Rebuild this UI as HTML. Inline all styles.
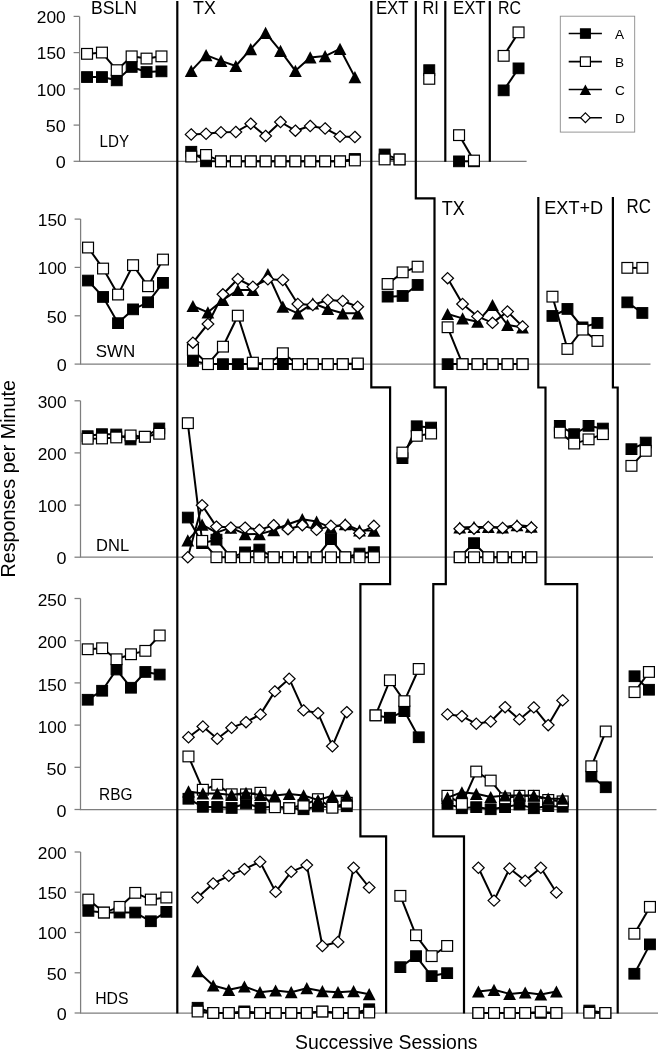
<!DOCTYPE html>
<html lang="en">
<head>
<meta charset="utf-8">
<title>Responses per Minute across Successive Sessions</title>
<style>
html,body{margin:0;padding:0;background:#fff;}
body{width:658px;height:1050px;overflow:hidden;}
svg{display:block;}
svg text{font-family:"Liberation Sans","DejaVu Sans",sans-serif;fill:#000;}
</style>
</head>
<body>
<svg width="658" height="1050" viewBox="0 0 658 1050">
<rect width="658" height="1050" fill="#fff"/>
<g>
<path d="M79.6 16.4V161.3H526.6" fill="none" stroke="#7e7e7e" stroke-width="1.25"/>
<path d="M73.6 161.3H79.6" stroke="#7e7e7e" stroke-width="1.25"/>
<text x="55.7" y="168" font-size="16.5" text-anchor="start" textLength="10" lengthAdjust="spacingAndGlyphs">0</text>
<path d="M73.6 125.1H79.6" stroke="#7e7e7e" stroke-width="1.25"/>
<text x="45.7" y="131.8" font-size="16.5" text-anchor="start" textLength="20" lengthAdjust="spacingAndGlyphs">50</text>
<path d="M73.6 88.9H79.6" stroke="#7e7e7e" stroke-width="1.25"/>
<text x="36.8" y="95.6" font-size="16.5" text-anchor="start" textLength="28.9" lengthAdjust="spacingAndGlyphs">100</text>
<path d="M73.6 52.6H79.6" stroke="#7e7e7e" stroke-width="1.25"/>
<text x="36.8" y="59.3" font-size="16.5" text-anchor="start" textLength="28.9" lengthAdjust="spacingAndGlyphs">150</text>
<path d="M73.6 16.4H79.6" stroke="#7e7e7e" stroke-width="1.25"/>
<text x="36.8" y="23.1" font-size="16.5" text-anchor="start" textLength="28.9" lengthAdjust="spacingAndGlyphs">200</text>
<text x="99.6" y="147.2" font-size="16.2" text-anchor="start" textLength="29.5" lengthAdjust="spacingAndGlyphs">LDY</text>
<polyline points="87,77 101.9,77 116.8,80.3 131.7,67 146.6,72 161.4,71.3" fill="none" stroke="#000" stroke-width="2.0" stroke-linejoin="round"/>
<rect x="81.6" y="71.7" width="10.9" height="10.7" fill="#000" stroke="#000" stroke-width="1"/>
<rect x="96.5" y="71.7" width="10.9" height="10.7" fill="#000" stroke="#000" stroke-width="1"/>
<rect x="111.3" y="75" width="10.9" height="10.7" fill="#000" stroke="#000" stroke-width="1"/>
<rect x="126.2" y="61.6" width="10.9" height="10.7" fill="#000" stroke="#000" stroke-width="1"/>
<rect x="141.1" y="66.7" width="10.9" height="10.7" fill="#000" stroke="#000" stroke-width="1"/>
<rect x="156" y="66" width="10.9" height="10.7" fill="#000" stroke="#000" stroke-width="1"/>
<polyline points="191.2,151.8 206.1,161.3 221,161.3 235.8,161.3 250.7,161.3 265.6,161.3 280.5,161.3 295.4,161.3 310.2,161.3 325.1,161.3 340,161.3 354.9,158.9" fill="none" stroke="#000" stroke-width="2.0" stroke-linejoin="round"/>
<rect x="185.8" y="146.4" width="10.9" height="10.7" fill="#000" stroke="#000" stroke-width="1"/>
<rect x="200.6" y="156" width="10.9" height="10.7" fill="#000" stroke="#000" stroke-width="1"/>
<rect x="215.5" y="156" width="10.9" height="10.7" fill="#000" stroke="#000" stroke-width="1"/>
<rect x="230.4" y="156" width="10.9" height="10.7" fill="#000" stroke="#000" stroke-width="1"/>
<rect x="245.3" y="156" width="10.9" height="10.7" fill="#000" stroke="#000" stroke-width="1"/>
<rect x="260.2" y="156" width="10.9" height="10.7" fill="#000" stroke="#000" stroke-width="1"/>
<rect x="275" y="156" width="10.9" height="10.7" fill="#000" stroke="#000" stroke-width="1"/>
<rect x="289.9" y="156" width="10.9" height="10.7" fill="#000" stroke="#000" stroke-width="1"/>
<rect x="304.8" y="156" width="10.9" height="10.7" fill="#000" stroke="#000" stroke-width="1"/>
<rect x="319.7" y="156" width="10.9" height="10.7" fill="#000" stroke="#000" stroke-width="1"/>
<rect x="334.6" y="156" width="10.9" height="10.7" fill="#000" stroke="#000" stroke-width="1"/>
<rect x="349.4" y="153.6" width="10.9" height="10.7" fill="#000" stroke="#000" stroke-width="1"/>
<polyline points="384.6,154.4 399.5,159.4" fill="none" stroke="#000" stroke-width="2.0" stroke-linejoin="round"/>
<rect x="379.2" y="149.1" width="10.9" height="10.7" fill="#000" stroke="#000" stroke-width="1"/>
<rect x="394.1" y="154.1" width="10.9" height="10.7" fill="#000" stroke="#000" stroke-width="1"/>
<rect x="423.8" y="64.8" width="10.9" height="10.7" fill="#000" stroke="#000" stroke-width="1"/>
<polyline points="459,161.3 473.9,161.3" fill="none" stroke="#000" stroke-width="2.0" stroke-linejoin="round"/>
<rect x="453.6" y="156" width="10.9" height="10.7" fill="#000" stroke="#000" stroke-width="1"/>
<rect x="468.5" y="156" width="10.9" height="10.7" fill="#000" stroke="#000" stroke-width="1"/>
<polyline points="503.7,90.4 518.6,68.4" fill="none" stroke="#000" stroke-width="2.0" stroke-linejoin="round"/>
<rect x="498.2" y="85" width="10.9" height="10.7" fill="#000" stroke="#000" stroke-width="1"/>
<rect x="513.1" y="63" width="10.9" height="10.7" fill="#000" stroke="#000" stroke-width="1"/>
<polyline points="87,53.9 101.9,52.6 116.8,70.2 131.7,56.3 146.6,58.6 161.4,56.3" fill="none" stroke="#000" stroke-width="2.0" stroke-linejoin="round"/>
<rect x="81.6" y="48.5" width="10.9" height="10.7" fill="#fff" stroke="#000" stroke-width="1.2"/>
<rect x="96.5" y="47.2" width="10.9" height="10.7" fill="#fff" stroke="#000" stroke-width="1.2"/>
<rect x="111.3" y="64.8" width="10.9" height="10.7" fill="#fff" stroke="#000" stroke-width="1.2"/>
<rect x="126.2" y="51" width="10.9" height="10.7" fill="#fff" stroke="#000" stroke-width="1.2"/>
<rect x="141.1" y="53.2" width="10.9" height="10.7" fill="#fff" stroke="#000" stroke-width="1.2"/>
<rect x="156" y="51" width="10.9" height="10.7" fill="#fff" stroke="#000" stroke-width="1.2"/>
<polyline points="191.2,156.6 206.1,154.9 221,161.3 235.8,161.3 250.7,161.3 265.6,161.3 280.5,161.3 295.4,161.3 310.2,161.3 325.1,161.3 340,161.3 354.9,160.4" fill="none" stroke="#000" stroke-width="2.0" stroke-linejoin="round"/>
<rect x="185.8" y="151.2" width="10.9" height="10.7" fill="#fff" stroke="#000" stroke-width="1.2"/>
<rect x="200.6" y="149.6" width="10.9" height="10.7" fill="#fff" stroke="#000" stroke-width="1.2"/>
<rect x="215.5" y="156" width="10.9" height="10.7" fill="#fff" stroke="#000" stroke-width="1.2"/>
<rect x="230.4" y="156" width="10.9" height="10.7" fill="#fff" stroke="#000" stroke-width="1.2"/>
<rect x="245.3" y="156" width="10.9" height="10.7" fill="#fff" stroke="#000" stroke-width="1.2"/>
<rect x="260.2" y="156" width="10.9" height="10.7" fill="#fff" stroke="#000" stroke-width="1.2"/>
<rect x="275" y="156" width="10.9" height="10.7" fill="#fff" stroke="#000" stroke-width="1.2"/>
<rect x="289.9" y="156" width="10.9" height="10.7" fill="#fff" stroke="#000" stroke-width="1.2"/>
<rect x="304.8" y="156" width="10.9" height="10.7" fill="#fff" stroke="#000" stroke-width="1.2"/>
<rect x="319.7" y="156" width="10.9" height="10.7" fill="#fff" stroke="#000" stroke-width="1.2"/>
<rect x="334.6" y="156" width="10.9" height="10.7" fill="#fff" stroke="#000" stroke-width="1.2"/>
<rect x="349.4" y="155.1" width="10.9" height="10.7" fill="#fff" stroke="#000" stroke-width="1.2"/>
<polyline points="384.6,159.4 399.5,159.4" fill="none" stroke="#000" stroke-width="2.0" stroke-linejoin="round"/>
<rect x="379.2" y="154.1" width="10.9" height="10.7" fill="#fff" stroke="#000" stroke-width="1.2"/>
<rect x="394.1" y="154.1" width="10.9" height="10.7" fill="#fff" stroke="#000" stroke-width="1.2"/>
<rect x="423.8" y="73.5" width="10.9" height="10.7" fill="#fff" stroke="#000" stroke-width="1.2"/>
<polyline points="459,135.1 473.9,160.6" fill="none" stroke="#000" stroke-width="2.0" stroke-linejoin="round"/>
<rect x="453.6" y="129.8" width="10.9" height="10.7" fill="#fff" stroke="#000" stroke-width="1.2"/>
<rect x="468.5" y="155.2" width="10.9" height="10.7" fill="#fff" stroke="#000" stroke-width="1.2"/>
<polyline points="503.7,55.8 518.6,32.4" fill="none" stroke="#000" stroke-width="2.0" stroke-linejoin="round"/>
<rect x="498.2" y="50.5" width="10.9" height="10.7" fill="#fff" stroke="#000" stroke-width="1.2"/>
<rect x="513.1" y="27" width="10.9" height="10.7" fill="#fff" stroke="#000" stroke-width="1.2"/>
<polyline points="191.2,70.9 206.1,55.1 221,60.9 235.8,66 250.7,49.1 265.6,32.8 280.5,50.8 295.4,70.8 310.2,57.4 325.1,56.1 340,48.8 354.9,77.1" fill="none" stroke="#000" stroke-width="2.0" stroke-linejoin="round"/>
<path d="M191.2 64.8L197.6 77L184.8 77Z" fill="#000"/>
<path d="M206.1 49L212.5 61.2L199.7 61.2Z" fill="#000"/>
<path d="M221 54.8L227.4 67L214.6 67Z" fill="#000"/>
<path d="M235.8 59.9L242.2 72.1L229.4 72.1Z" fill="#000"/>
<path d="M250.7 43L257.1 55.2L244.3 55.2Z" fill="#000"/>
<path d="M265.6 26.7L272 38.9L259.2 38.9Z" fill="#000"/>
<path d="M280.5 44.7L286.9 56.9L274.1 56.9Z" fill="#000"/>
<path d="M295.4 64.7L301.8 76.9L289 76.9Z" fill="#000"/>
<path d="M310.2 51.3L316.6 63.5L303.8 63.5Z" fill="#000"/>
<path d="M325.1 50L331.5 62.2L318.7 62.2Z" fill="#000"/>
<path d="M340 42.7L346.4 54.9L333.6 54.9Z" fill="#000"/>
<path d="M354.9 71L361.3 83.2L348.5 83.2Z" fill="#000"/>
<polyline points="191.2,134.4 206.1,133.8 221,132.3 235.8,132 250.7,123.7 265.6,136 280.5,122 295.4,130.7 310.2,126 325.1,128.4 340,136.4 354.9,137" fill="none" stroke="#000" stroke-width="2.0" stroke-linejoin="round"/>
<path d="M191.2 128.8L197 134.4L191.2 140.1L185.3 134.4Z" fill="#fff" stroke="#000" stroke-width="1.2"/>
<path d="M206.1 128.1L211.9 133.8L206.1 139.4L200.2 133.8Z" fill="#fff" stroke="#000" stroke-width="1.2"/>
<path d="M221 126.6L226.8 132.3L221 137.9L215.1 132.3Z" fill="#fff" stroke="#000" stroke-width="1.2"/>
<path d="M235.8 126.3L241.7 132L235.8 137.7L230 132Z" fill="#fff" stroke="#000" stroke-width="1.2"/>
<path d="M250.7 118L256.6 123.7L250.7 129.3L244.9 123.7Z" fill="#fff" stroke="#000" stroke-width="1.2"/>
<path d="M265.6 130.3L271.5 136L265.6 141.7L259.8 136Z" fill="#fff" stroke="#000" stroke-width="1.2"/>
<path d="M280.5 116.3L286.3 122L280.5 127.7L274.6 122Z" fill="#fff" stroke="#000" stroke-width="1.2"/>
<path d="M295.4 125L301.2 130.7L295.4 136.3L289.5 130.7Z" fill="#fff" stroke="#000" stroke-width="1.2"/>
<path d="M310.2 120.3L316.1 126L310.2 131.7L304.4 126Z" fill="#fff" stroke="#000" stroke-width="1.2"/>
<path d="M325.1 122.8L331 128.4L325.1 134.1L319.3 128.4Z" fill="#fff" stroke="#000" stroke-width="1.2"/>
<path d="M340 130.8L345.9 136.4L340 142.1L334.1 136.4Z" fill="#fff" stroke="#000" stroke-width="1.2"/>
<path d="M354.9 131.3L360.7 137L354.9 142.7L349 137Z" fill="#fff" stroke="#000" stroke-width="1.2"/>
</g>
<g>
<path d="M80.6 219.1V364.1H650.5" fill="none" stroke="#7e7e7e" stroke-width="1.25"/>
<path d="M74.6 364.1H80.6" stroke="#7e7e7e" stroke-width="1.25"/>
<text x="56.7" y="370.8" font-size="16.5" text-anchor="start" textLength="10" lengthAdjust="spacingAndGlyphs">0</text>
<path d="M74.6 315.8H80.6" stroke="#7e7e7e" stroke-width="1.25"/>
<text x="46.7" y="322.5" font-size="16.5" text-anchor="start" textLength="20" lengthAdjust="spacingAndGlyphs">50</text>
<path d="M74.6 267.4H80.6" stroke="#7e7e7e" stroke-width="1.25"/>
<text x="37.8" y="274.1" font-size="16.5" text-anchor="start" textLength="28.9" lengthAdjust="spacingAndGlyphs">100</text>
<path d="M74.6 219.1H80.6" stroke="#7e7e7e" stroke-width="1.25"/>
<text x="37.8" y="225.8" font-size="16.5" text-anchor="start" textLength="28.9" lengthAdjust="spacingAndGlyphs">150</text>
<text x="95.7" y="357.3" font-size="16.2" text-anchor="start" textLength="39.5" lengthAdjust="spacingAndGlyphs">SWN</text>
<polyline points="88.1,280.6 103.1,297 118,323.1 133,309.4 148,302.3 163,282.9" fill="none" stroke="#000" stroke-width="2.0" stroke-linejoin="round"/>
<rect x="82.6" y="275.2" width="10.9" height="10.7" fill="#000" stroke="#000" stroke-width="1"/>
<rect x="97.6" y="291.6" width="10.9" height="10.7" fill="#000" stroke="#000" stroke-width="1"/>
<rect x="112.6" y="317.8" width="10.9" height="10.7" fill="#000" stroke="#000" stroke-width="1"/>
<rect x="127.6" y="304" width="10.9" height="10.7" fill="#000" stroke="#000" stroke-width="1"/>
<rect x="142.6" y="296.9" width="10.9" height="10.7" fill="#000" stroke="#000" stroke-width="1"/>
<rect x="157.5" y="277.5" width="10.9" height="10.7" fill="#000" stroke="#000" stroke-width="1"/>
<polyline points="192.9,361 207.9,364.1 222.9,364.1 237.9,364.1 252.9,364.1 267.9,364.1 282.8,364.1 297.8,364.1 312.8,364.1 327.8,364.1 342.8,364.1 357.7,364.1" fill="none" stroke="#000" stroke-width="2.0" stroke-linejoin="round"/>
<rect x="187.5" y="355.6" width="10.9" height="10.7" fill="#000" stroke="#000" stroke-width="1"/>
<rect x="202.5" y="358.8" width="10.9" height="10.7" fill="#000" stroke="#000" stroke-width="1"/>
<rect x="217.5" y="358.8" width="10.9" height="10.7" fill="#000" stroke="#000" stroke-width="1"/>
<rect x="232.4" y="358.8" width="10.9" height="10.7" fill="#000" stroke="#000" stroke-width="1"/>
<rect x="247.4" y="358.8" width="10.9" height="10.7" fill="#000" stroke="#000" stroke-width="1"/>
<rect x="262.4" y="358.8" width="10.9" height="10.7" fill="#000" stroke="#000" stroke-width="1"/>
<rect x="277.4" y="358.8" width="10.9" height="10.7" fill="#000" stroke="#000" stroke-width="1"/>
<rect x="292.4" y="358.8" width="10.9" height="10.7" fill="#000" stroke="#000" stroke-width="1"/>
<rect x="307.3" y="358.8" width="10.9" height="10.7" fill="#000" stroke="#000" stroke-width="1"/>
<rect x="322.3" y="358.8" width="10.9" height="10.7" fill="#000" stroke="#000" stroke-width="1"/>
<rect x="337.3" y="358.8" width="10.9" height="10.7" fill="#000" stroke="#000" stroke-width="1"/>
<rect x="352.3" y="358.8" width="10.9" height="10.7" fill="#000" stroke="#000" stroke-width="1"/>
<polyline points="387.7,296.7 402.7,296 417.6,285" fill="none" stroke="#000" stroke-width="2.0" stroke-linejoin="round"/>
<rect x="382.2" y="291.3" width="10.9" height="10.7" fill="#000" stroke="#000" stroke-width="1"/>
<rect x="397.2" y="290.6" width="10.9" height="10.7" fill="#000" stroke="#000" stroke-width="1"/>
<rect x="412.2" y="279.6" width="10.9" height="10.7" fill="#000" stroke="#000" stroke-width="1"/>
<polyline points="447.6,364.1 462.6,364.1 477.6,364.1 492.5,364.1 507.5,364.1 522.5,364.1" fill="none" stroke="#000" stroke-width="2.0" stroke-linejoin="round"/>
<rect x="442.2" y="358.8" width="10.9" height="10.7" fill="#000" stroke="#000" stroke-width="1"/>
<rect x="457.1" y="358.8" width="10.9" height="10.7" fill="#000" stroke="#000" stroke-width="1"/>
<rect x="472.1" y="358.8" width="10.9" height="10.7" fill="#000" stroke="#000" stroke-width="1"/>
<rect x="487.1" y="358.8" width="10.9" height="10.7" fill="#000" stroke="#000" stroke-width="1"/>
<rect x="502.1" y="358.8" width="10.9" height="10.7" fill="#000" stroke="#000" stroke-width="1"/>
<rect x="517.1" y="358.8" width="10.9" height="10.7" fill="#000" stroke="#000" stroke-width="1"/>
<polyline points="552.5,316 567.5,309 582.4,327.4 597.4,323" fill="none" stroke="#000" stroke-width="2.0" stroke-linejoin="round"/>
<rect x="547" y="310.6" width="10.9" height="10.7" fill="#000" stroke="#000" stroke-width="1"/>
<rect x="562" y="303.6" width="10.9" height="10.7" fill="#000" stroke="#000" stroke-width="1"/>
<rect x="577" y="322" width="10.9" height="10.7" fill="#000" stroke="#000" stroke-width="1"/>
<rect x="592" y="317.6" width="10.9" height="10.7" fill="#000" stroke="#000" stroke-width="1"/>
<polyline points="627.4,302.4 642.4,313" fill="none" stroke="#000" stroke-width="2.0" stroke-linejoin="round"/>
<rect x="621.9" y="297" width="10.9" height="10.7" fill="#000" stroke="#000" stroke-width="1"/>
<rect x="636.9" y="307.6" width="10.9" height="10.7" fill="#000" stroke="#000" stroke-width="1"/>
<polyline points="88.1,247.5 103.1,268.6 118,294.6 133,265.2 148,286.3 163,259.5" fill="none" stroke="#000" stroke-width="2.0" stroke-linejoin="round"/>
<rect x="82.6" y="242.2" width="10.9" height="10.7" fill="#fff" stroke="#000" stroke-width="1.2"/>
<rect x="97.6" y="263.2" width="10.9" height="10.7" fill="#fff" stroke="#000" stroke-width="1.2"/>
<rect x="112.6" y="289.2" width="10.9" height="10.7" fill="#fff" stroke="#000" stroke-width="1.2"/>
<rect x="127.6" y="259.8" width="10.9" height="10.7" fill="#fff" stroke="#000" stroke-width="1.2"/>
<rect x="142.6" y="280.9" width="10.9" height="10.7" fill="#fff" stroke="#000" stroke-width="1.2"/>
<rect x="157.5" y="254.2" width="10.9" height="10.7" fill="#fff" stroke="#000" stroke-width="1.2"/>
<polyline points="192.9,350 207.9,364.1 222.9,346.7 237.9,315.7 252.9,362.7 267.9,364.1 282.8,353.3 297.8,364.1 312.8,364.1 327.8,364.1 342.8,364.1 357.7,363.5" fill="none" stroke="#000" stroke-width="2.0" stroke-linejoin="round"/>
<rect x="187.5" y="344.6" width="10.9" height="10.7" fill="#fff" stroke="#000" stroke-width="1.2"/>
<rect x="202.5" y="358.8" width="10.9" height="10.7" fill="#fff" stroke="#000" stroke-width="1.2"/>
<rect x="217.5" y="341.3" width="10.9" height="10.7" fill="#fff" stroke="#000" stroke-width="1.2"/>
<rect x="232.4" y="310.3" width="10.9" height="10.7" fill="#fff" stroke="#000" stroke-width="1.2"/>
<rect x="247.4" y="357.3" width="10.9" height="10.7" fill="#fff" stroke="#000" stroke-width="1.2"/>
<rect x="262.4" y="358.8" width="10.9" height="10.7" fill="#fff" stroke="#000" stroke-width="1.2"/>
<rect x="277.4" y="347.9" width="10.9" height="10.7" fill="#fff" stroke="#000" stroke-width="1.2"/>
<rect x="292.4" y="358.8" width="10.9" height="10.7" fill="#fff" stroke="#000" stroke-width="1.2"/>
<rect x="307.3" y="358.8" width="10.9" height="10.7" fill="#fff" stroke="#000" stroke-width="1.2"/>
<rect x="322.3" y="358.8" width="10.9" height="10.7" fill="#fff" stroke="#000" stroke-width="1.2"/>
<rect x="337.3" y="358.8" width="10.9" height="10.7" fill="#fff" stroke="#000" stroke-width="1.2"/>
<rect x="352.3" y="358.1" width="10.9" height="10.7" fill="#fff" stroke="#000" stroke-width="1.2"/>
<polyline points="387.7,284 402.7,272.4 417.6,266.7" fill="none" stroke="#000" stroke-width="2.0" stroke-linejoin="round"/>
<rect x="382.2" y="278.6" width="10.9" height="10.7" fill="#fff" stroke="#000" stroke-width="1.2"/>
<rect x="397.2" y="267" width="10.9" height="10.7" fill="#fff" stroke="#000" stroke-width="1.2"/>
<rect x="412.2" y="261.3" width="10.9" height="10.7" fill="#fff" stroke="#000" stroke-width="1.2"/>
<polyline points="447.6,327.3 462.6,364.1 477.6,364.1 492.5,364.1 507.5,364.1 522.5,364.1" fill="none" stroke="#000" stroke-width="2.0" stroke-linejoin="round"/>
<rect x="442.2" y="321.9" width="10.9" height="10.7" fill="#fff" stroke="#000" stroke-width="1.2"/>
<rect x="457.1" y="358.8" width="10.9" height="10.7" fill="#fff" stroke="#000" stroke-width="1.2"/>
<rect x="472.1" y="358.8" width="10.9" height="10.7" fill="#fff" stroke="#000" stroke-width="1.2"/>
<rect x="487.1" y="358.8" width="10.9" height="10.7" fill="#fff" stroke="#000" stroke-width="1.2"/>
<rect x="502.1" y="358.8" width="10.9" height="10.7" fill="#fff" stroke="#000" stroke-width="1.2"/>
<rect x="517.1" y="358.8" width="10.9" height="10.7" fill="#fff" stroke="#000" stroke-width="1.2"/>
<polyline points="552.5,296.7 567.5,349 582.4,329.7 597.4,341" fill="none" stroke="#000" stroke-width="2.0" stroke-linejoin="round"/>
<rect x="547" y="291.3" width="10.9" height="10.7" fill="#fff" stroke="#000" stroke-width="1.2"/>
<rect x="562" y="343.6" width="10.9" height="10.7" fill="#fff" stroke="#000" stroke-width="1.2"/>
<rect x="577" y="324.3" width="10.9" height="10.7" fill="#fff" stroke="#000" stroke-width="1.2"/>
<rect x="592" y="335.6" width="10.9" height="10.7" fill="#fff" stroke="#000" stroke-width="1.2"/>
<polyline points="627.4,267.9 642.4,267.9" fill="none" stroke="#000" stroke-width="2.0" stroke-linejoin="round"/>
<rect x="621.9" y="262.5" width="10.9" height="10.7" fill="#fff" stroke="#000" stroke-width="1.2"/>
<rect x="636.9" y="262.5" width="10.9" height="10.7" fill="#fff" stroke="#000" stroke-width="1.2"/>
<polyline points="192.9,306 207.9,312.3 222.9,300 237.9,290 252.9,290 267.9,274 282.8,306.7 297.8,313.3 312.8,303.3 327.8,309 342.8,313.3 357.7,313.3" fill="none" stroke="#000" stroke-width="2.0" stroke-linejoin="round"/>
<path d="M192.9 299.9L199.3 312.1L186.5 312.1Z" fill="#000"/>
<path d="M207.9 306.2L214.3 318.4L201.5 318.4Z" fill="#000"/>
<path d="M222.9 293.9L229.3 306.1L216.5 306.1Z" fill="#000"/>
<path d="M237.9 283.9L244.3 296.1L231.5 296.1Z" fill="#000"/>
<path d="M252.9 283.9L259.3 296.1L246.5 296.1Z" fill="#000"/>
<path d="M267.9 267.9L274.2 280.1L261.5 280.1Z" fill="#000"/>
<path d="M282.8 300.6L289.2 312.8L276.4 312.8Z" fill="#000"/>
<path d="M297.8 307.2L304.2 319.4L291.4 319.4Z" fill="#000"/>
<path d="M312.8 297.2L319.2 309.4L306.4 309.4Z" fill="#000"/>
<path d="M327.8 302.9L334.2 315.1L321.4 315.1Z" fill="#000"/>
<path d="M342.8 307.2L349.1 319.4L336.4 319.4Z" fill="#000"/>
<path d="M357.7 307.2L364.1 319.4L351.3 319.4Z" fill="#000"/>
<polyline points="447.6,314 462.6,318.4 477.6,321.7 492.5,305 507.5,325 522.5,327.4" fill="none" stroke="#000" stroke-width="2.0" stroke-linejoin="round"/>
<path d="M447.6 307.9L454 320.1L441.2 320.1Z" fill="#000"/>
<path d="M462.6 312.3L469 324.5L456.2 324.5Z" fill="#000"/>
<path d="M477.6 315.6L484 327.8L471.2 327.8Z" fill="#000"/>
<path d="M492.5 298.9L498.9 311.1L486.1 311.1Z" fill="#000"/>
<path d="M507.5 318.9L513.9 331.1L501.1 331.1Z" fill="#000"/>
<path d="M522.5 321.3L528.9 333.5L516.1 333.5Z" fill="#000"/>
<polyline points="192.9,342.7 207.9,324 222.9,294.3 237.9,279 252.9,286.7 267.9,279.3 282.8,280 297.8,304 312.8,305 327.8,300 342.8,301 357.7,306.7" fill="none" stroke="#000" stroke-width="2.0" stroke-linejoin="round"/>
<path d="M192.9 337.1L198.8 342.7L192.9 348.3L187.1 342.7Z" fill="#fff" stroke="#000" stroke-width="1.2"/>
<path d="M207.9 318.4L213.8 324L207.9 329.6L202.1 324Z" fill="#fff" stroke="#000" stroke-width="1.2"/>
<path d="M222.9 288.7L228.8 294.3L222.9 299.9L217.1 294.3Z" fill="#fff" stroke="#000" stroke-width="1.2"/>
<path d="M237.9 273.4L243.7 279L237.9 284.6L232 279Z" fill="#fff" stroke="#000" stroke-width="1.2"/>
<path d="M252.9 281.1L258.7 286.7L252.9 292.3L247 286.7Z" fill="#fff" stroke="#000" stroke-width="1.2"/>
<path d="M267.9 273.7L273.7 279.3L267.9 284.9L262 279.3Z" fill="#fff" stroke="#000" stroke-width="1.2"/>
<path d="M282.8 274.4L288.7 280L282.8 285.6L277 280Z" fill="#fff" stroke="#000" stroke-width="1.2"/>
<path d="M297.8 298.4L303.7 304L297.8 309.6L292 304Z" fill="#fff" stroke="#000" stroke-width="1.2"/>
<path d="M312.8 299.4L318.6 305L312.8 310.6L306.9 305Z" fill="#fff" stroke="#000" stroke-width="1.2"/>
<path d="M327.8 294.4L333.6 300L327.8 305.6L321.9 300Z" fill="#fff" stroke="#000" stroke-width="1.2"/>
<path d="M342.8 295.4L348.6 301L342.8 306.6L336.9 301Z" fill="#fff" stroke="#000" stroke-width="1.2"/>
<path d="M357.7 301.1L363.6 306.7L357.7 312.3L351.9 306.7Z" fill="#fff" stroke="#000" stroke-width="1.2"/>
<polyline points="447.6,278.2 462.6,304 477.6,316.4 492.5,322.9 507.5,311.6 522.5,326.4" fill="none" stroke="#000" stroke-width="2.0" stroke-linejoin="round"/>
<path d="M447.6 272.6L453.5 278.2L447.6 283.8L441.8 278.2Z" fill="#fff" stroke="#000" stroke-width="1.2"/>
<path d="M462.6 298.4L468.4 304L462.6 309.6L456.7 304Z" fill="#fff" stroke="#000" stroke-width="1.2"/>
<path d="M477.6 310.8L483.4 316.4L477.6 322L471.7 316.4Z" fill="#fff" stroke="#000" stroke-width="1.2"/>
<path d="M492.5 317.2L498.4 322.9L492.5 328.5L486.7 322.9Z" fill="#fff" stroke="#000" stroke-width="1.2"/>
<path d="M507.5 305.9L513.4 311.6L507.5 317.2L501.7 311.6Z" fill="#fff" stroke="#000" stroke-width="1.2"/>
<path d="M522.5 320.8L528.4 326.4L522.5 332L516.7 326.4Z" fill="#fff" stroke="#000" stroke-width="1.2"/>
</g>
<g>
<path d="M80.5 400.8V557.2H653" fill="none" stroke="#7e7e7e" stroke-width="1.25"/>
<path d="M74.5 557.2H80.5" stroke="#7e7e7e" stroke-width="1.25"/>
<text x="56.6" y="563.9" font-size="16.5" text-anchor="start" textLength="10" lengthAdjust="spacingAndGlyphs">0</text>
<path d="M74.5 505.1H80.5" stroke="#7e7e7e" stroke-width="1.25"/>
<text x="37.7" y="511.8" font-size="16.5" text-anchor="start" textLength="28.9" lengthAdjust="spacingAndGlyphs">100</text>
<path d="M74.5 452.9H80.5" stroke="#7e7e7e" stroke-width="1.25"/>
<text x="37.7" y="459.6" font-size="16.5" text-anchor="start" textLength="28.9" lengthAdjust="spacingAndGlyphs">200</text>
<path d="M74.5 400.8H80.5" stroke="#7e7e7e" stroke-width="1.25"/>
<text x="37.7" y="407.5" font-size="16.5" text-anchor="start" textLength="28.9" lengthAdjust="spacingAndGlyphs">300</text>
<text x="96.1" y="550.8" font-size="16.2" text-anchor="start" textLength="33" lengthAdjust="spacingAndGlyphs">DNL</text>
<polyline points="87.7,436.1 102,434.1 116.3,434.4 130.6,439.4 144.9,436.8 159.2,428.4" fill="none" stroke="#000" stroke-width="2.0" stroke-linejoin="round"/>
<rect x="82.2" y="430.8" width="10.9" height="10.7" fill="#000" stroke="#000" stroke-width="1"/>
<rect x="96.5" y="428.8" width="10.9" height="10.7" fill="#000" stroke="#000" stroke-width="1"/>
<rect x="110.8" y="429.1" width="10.9" height="10.7" fill="#000" stroke="#000" stroke-width="1"/>
<rect x="125.1" y="434.1" width="10.9" height="10.7" fill="#000" stroke="#000" stroke-width="1"/>
<rect x="139.4" y="431.4" width="10.9" height="10.7" fill="#000" stroke="#000" stroke-width="1"/>
<rect x="153.8" y="423.1" width="10.9" height="10.7" fill="#000" stroke="#000" stroke-width="1"/>
<polyline points="187.8,517.6 202.1,543.2 216.4,539.7 230.8,557.2 245.1,552.4 259.4,549.6 273.7,557.2 288,557.2 302.3,557.2 316.6,557.2 330.9,539.2 345.2,557.2 359.5,553.6 373.9,552.1" fill="none" stroke="#000" stroke-width="2.0" stroke-linejoin="round"/>
<rect x="182.4" y="512.2" width="10.9" height="10.7" fill="#000" stroke="#000" stroke-width="1"/>
<rect x="196.7" y="537.8" width="10.9" height="10.7" fill="#000" stroke="#000" stroke-width="1"/>
<rect x="211" y="534.3" width="10.9" height="10.7" fill="#000" stroke="#000" stroke-width="1"/>
<rect x="225.3" y="551.9" width="10.9" height="10.7" fill="#000" stroke="#000" stroke-width="1"/>
<rect x="239.6" y="547" width="10.9" height="10.7" fill="#000" stroke="#000" stroke-width="1"/>
<rect x="253.9" y="544.2" width="10.9" height="10.7" fill="#000" stroke="#000" stroke-width="1"/>
<rect x="268.2" y="551.9" width="10.9" height="10.7" fill="#000" stroke="#000" stroke-width="1"/>
<rect x="282.5" y="551.9" width="10.9" height="10.7" fill="#000" stroke="#000" stroke-width="1"/>
<rect x="296.9" y="551.9" width="10.9" height="10.7" fill="#000" stroke="#000" stroke-width="1"/>
<rect x="311.2" y="551.9" width="10.9" height="10.7" fill="#000" stroke="#000" stroke-width="1"/>
<rect x="325.5" y="533.8" width="10.9" height="10.7" fill="#000" stroke="#000" stroke-width="1"/>
<rect x="339.8" y="551.9" width="10.9" height="10.7" fill="#000" stroke="#000" stroke-width="1"/>
<rect x="354.1" y="548.2" width="10.9" height="10.7" fill="#000" stroke="#000" stroke-width="1"/>
<rect x="368.4" y="546.8" width="10.9" height="10.7" fill="#000" stroke="#000" stroke-width="1"/>
<polyline points="402.5,458.2 416.8,426.3 431.1,427.6" fill="none" stroke="#000" stroke-width="2.0" stroke-linejoin="round"/>
<rect x="397" y="452.8" width="10.9" height="10.7" fill="#000" stroke="#000" stroke-width="1"/>
<rect x="411.3" y="420.9" width="10.9" height="10.7" fill="#000" stroke="#000" stroke-width="1"/>
<rect x="425.6" y="422.2" width="10.9" height="10.7" fill="#000" stroke="#000" stroke-width="1"/>
<polyline points="459.7,557.2 474,543.2 488.3,557.2 502.6,557.2 517,557.2 531.3,557.2" fill="none" stroke="#000" stroke-width="2.0" stroke-linejoin="round"/>
<rect x="454.3" y="551.9" width="10.9" height="10.7" fill="#000" stroke="#000" stroke-width="1"/>
<rect x="468.6" y="537.8" width="10.9" height="10.7" fill="#000" stroke="#000" stroke-width="1"/>
<rect x="482.9" y="551.9" width="10.9" height="10.7" fill="#000" stroke="#000" stroke-width="1"/>
<rect x="497.2" y="551.9" width="10.9" height="10.7" fill="#000" stroke="#000" stroke-width="1"/>
<rect x="511.5" y="551.9" width="10.9" height="10.7" fill="#000" stroke="#000" stroke-width="1"/>
<rect x="525.8" y="551.9" width="10.9" height="10.7" fill="#000" stroke="#000" stroke-width="1"/>
<polyline points="559.9,425.9 574.2,434.2 588.5,425.9 602.8,428.6" fill="none" stroke="#000" stroke-width="2.0" stroke-linejoin="round"/>
<rect x="554.4" y="420.5" width="10.9" height="10.7" fill="#000" stroke="#000" stroke-width="1"/>
<rect x="568.7" y="428.8" width="10.9" height="10.7" fill="#000" stroke="#000" stroke-width="1"/>
<rect x="583.1" y="420.5" width="10.9" height="10.7" fill="#000" stroke="#000" stroke-width="1"/>
<rect x="597.4" y="423.2" width="10.9" height="10.7" fill="#000" stroke="#000" stroke-width="1"/>
<polyline points="631.4,449.2 645.7,442.6" fill="none" stroke="#000" stroke-width="2.0" stroke-linejoin="round"/>
<rect x="626" y="443.8" width="10.9" height="10.7" fill="#000" stroke="#000" stroke-width="1"/>
<rect x="640.3" y="437.2" width="10.9" height="10.7" fill="#000" stroke="#000" stroke-width="1"/>
<polyline points="87.7,438.8 102,438.4 116.3,437.4 130.6,435.4 144.9,436.8 159.2,433.8" fill="none" stroke="#000" stroke-width="2.0" stroke-linejoin="round"/>
<rect x="82.2" y="433.4" width="10.9" height="10.7" fill="#fff" stroke="#000" stroke-width="1.2"/>
<rect x="96.5" y="433.1" width="10.9" height="10.7" fill="#fff" stroke="#000" stroke-width="1.2"/>
<rect x="110.8" y="432.1" width="10.9" height="10.7" fill="#fff" stroke="#000" stroke-width="1.2"/>
<rect x="125.1" y="430.1" width="10.9" height="10.7" fill="#fff" stroke="#000" stroke-width="1.2"/>
<rect x="139.4" y="431.4" width="10.9" height="10.7" fill="#fff" stroke="#000" stroke-width="1.2"/>
<rect x="153.8" y="428.4" width="10.9" height="10.7" fill="#fff" stroke="#000" stroke-width="1.2"/>
<polyline points="187.8,423.2 202.1,540.9 216.4,557.2 230.8,557.2 245.1,557.2 259.4,557.2 273.7,557.2 288,557.2 302.3,557.2 316.6,557.2 330.9,557.2 345.2,557.2 359.5,557.2 373.9,557.2" fill="none" stroke="#000" stroke-width="2.0" stroke-linejoin="round"/>
<rect x="182.4" y="417.8" width="10.9" height="10.7" fill="#fff" stroke="#000" stroke-width="1.2"/>
<rect x="196.7" y="535.5" width="10.9" height="10.7" fill="#fff" stroke="#000" stroke-width="1.2"/>
<rect x="211" y="551.9" width="10.9" height="10.7" fill="#fff" stroke="#000" stroke-width="1.2"/>
<rect x="225.3" y="551.9" width="10.9" height="10.7" fill="#fff" stroke="#000" stroke-width="1.2"/>
<rect x="239.6" y="551.9" width="10.9" height="10.7" fill="#fff" stroke="#000" stroke-width="1.2"/>
<rect x="253.9" y="551.9" width="10.9" height="10.7" fill="#fff" stroke="#000" stroke-width="1.2"/>
<rect x="268.2" y="551.9" width="10.9" height="10.7" fill="#fff" stroke="#000" stroke-width="1.2"/>
<rect x="282.5" y="551.9" width="10.9" height="10.7" fill="#fff" stroke="#000" stroke-width="1.2"/>
<rect x="296.9" y="551.9" width="10.9" height="10.7" fill="#fff" stroke="#000" stroke-width="1.2"/>
<rect x="311.2" y="551.9" width="10.9" height="10.7" fill="#fff" stroke="#000" stroke-width="1.2"/>
<rect x="325.5" y="551.9" width="10.9" height="10.7" fill="#fff" stroke="#000" stroke-width="1.2"/>
<rect x="339.8" y="551.9" width="10.9" height="10.7" fill="#fff" stroke="#000" stroke-width="1.2"/>
<rect x="354.1" y="551.9" width="10.9" height="10.7" fill="#fff" stroke="#000" stroke-width="1.2"/>
<rect x="368.4" y="551.9" width="10.9" height="10.7" fill="#fff" stroke="#000" stroke-width="1.2"/>
<polyline points="402.5,452.6 416.8,435.9 431.1,433.6" fill="none" stroke="#000" stroke-width="2.0" stroke-linejoin="round"/>
<rect x="397" y="447.2" width="10.9" height="10.7" fill="#fff" stroke="#000" stroke-width="1.2"/>
<rect x="411.3" y="430.5" width="10.9" height="10.7" fill="#fff" stroke="#000" stroke-width="1.2"/>
<rect x="425.6" y="428.2" width="10.9" height="10.7" fill="#fff" stroke="#000" stroke-width="1.2"/>
<polyline points="459.7,557.2 474,557.2 488.3,557.2 502.6,557.2 517,557.2 531.3,557.2" fill="none" stroke="#000" stroke-width="2.0" stroke-linejoin="round"/>
<rect x="454.3" y="551.9" width="10.9" height="10.7" fill="#fff" stroke="#000" stroke-width="1.2"/>
<rect x="468.6" y="551.9" width="10.9" height="10.7" fill="#fff" stroke="#000" stroke-width="1.2"/>
<rect x="482.9" y="551.9" width="10.9" height="10.7" fill="#fff" stroke="#000" stroke-width="1.2"/>
<rect x="497.2" y="551.9" width="10.9" height="10.7" fill="#fff" stroke="#000" stroke-width="1.2"/>
<rect x="511.5" y="551.9" width="10.9" height="10.7" fill="#fff" stroke="#000" stroke-width="1.2"/>
<rect x="525.8" y="551.9" width="10.9" height="10.7" fill="#fff" stroke="#000" stroke-width="1.2"/>
<polyline points="559.9,432.6 574.2,443.6 588.5,439.4 602.8,434.2" fill="none" stroke="#000" stroke-width="2.0" stroke-linejoin="round"/>
<rect x="554.4" y="427.2" width="10.9" height="10.7" fill="#fff" stroke="#000" stroke-width="1.2"/>
<rect x="568.7" y="438.2" width="10.9" height="10.7" fill="#fff" stroke="#000" stroke-width="1.2"/>
<rect x="583.1" y="434" width="10.9" height="10.7" fill="#fff" stroke="#000" stroke-width="1.2"/>
<rect x="597.4" y="428.8" width="10.9" height="10.7" fill="#fff" stroke="#000" stroke-width="1.2"/>
<polyline points="631.4,465.9 645.7,450.9" fill="none" stroke="#000" stroke-width="2.0" stroke-linejoin="round"/>
<rect x="626" y="460.5" width="10.9" height="10.7" fill="#fff" stroke="#000" stroke-width="1.2"/>
<rect x="640.3" y="445.5" width="10.9" height="10.7" fill="#fff" stroke="#000" stroke-width="1.2"/>
<polyline points="187.8,540.4 202.1,524.7 216.4,532.6 230.8,527.6 245.1,534.2 259.4,534.1 273.7,530.2 288,524.2 302.3,519.2 316.6,521.6 330.9,527.6 345.2,524.2 359.5,530.4 373.9,530.6" fill="none" stroke="#000" stroke-width="2.0" stroke-linejoin="round"/>
<path d="M187.8 534.3L194.2 546.5L181.4 546.5Z" fill="#000"/>
<path d="M202.1 518.6L208.5 530.8L195.7 530.8Z" fill="#000"/>
<path d="M216.4 526.5L222.8 538.7L210 538.7Z" fill="#000"/>
<path d="M230.8 521.5L237.2 533.7L224.4 533.7Z" fill="#000"/>
<path d="M245.1 528.1L251.5 540.3L238.7 540.3Z" fill="#000"/>
<path d="M259.4 528L265.8 540.2L253 540.2Z" fill="#000"/>
<path d="M273.7 524.1L280.1 536.3L267.3 536.3Z" fill="#000"/>
<path d="M288 518.1L294.4 530.3L281.6 530.3Z" fill="#000"/>
<path d="M302.3 513.1L308.7 525.3L295.9 525.3Z" fill="#000"/>
<path d="M316.6 515.5L323 527.7L310.2 527.7Z" fill="#000"/>
<path d="M330.9 521.5L337.3 533.7L324.5 533.7Z" fill="#000"/>
<path d="M345.2 518.1L351.6 530.3L338.8 530.3Z" fill="#000"/>
<path d="M359.5 524.3L365.9 536.5L353.1 536.5Z" fill="#000"/>
<path d="M373.9 524.5L380.3 536.7L367.5 536.7Z" fill="#000"/>
<polyline points="459.7,527.5 474,526.9 488.3,526.9 502.6,527.5 517,525.1 531.3,526.6" fill="none" stroke="#000" stroke-width="2.0" stroke-linejoin="round"/>
<path d="M459.7 521.4L466.1 533.6L453.3 533.6Z" fill="#000"/>
<path d="M474 520.8L480.4 533L467.6 533Z" fill="#000"/>
<path d="M488.3 520.8L494.7 533L481.9 533Z" fill="#000"/>
<path d="M502.6 521.4L509 533.6L496.2 533.6Z" fill="#000"/>
<path d="M517 519L523.4 531.2L510.6 531.2Z" fill="#000"/>
<path d="M531.3 520.5L537.7 532.7L524.9 532.7Z" fill="#000"/>
<polyline points="187.8,557.2 202.1,505.2 216.4,526.6 230.8,527.6 245.1,527.6 259.4,529.9 273.7,525.2 288,529.2 302.3,525.2 316.6,529.9 330.9,525.9 345.2,525.2 359.5,533.2 373.9,525.9" fill="none" stroke="#000" stroke-width="2.0" stroke-linejoin="round"/>
<path d="M187.8 551.6L193.7 557.2L187.8 562.9L182 557.2Z" fill="#fff" stroke="#000" stroke-width="1.2"/>
<path d="M202.1 499.6L208 505.2L202.1 510.8L196.3 505.2Z" fill="#fff" stroke="#000" stroke-width="1.2"/>
<path d="M216.4 521L222.3 526.6L216.4 532.2L210.6 526.6Z" fill="#fff" stroke="#000" stroke-width="1.2"/>
<path d="M230.8 522L236.6 527.6L230.8 533.2L224.9 527.6Z" fill="#fff" stroke="#000" stroke-width="1.2"/>
<path d="M245.1 522L250.9 527.6L245.1 533.2L239.2 527.6Z" fill="#fff" stroke="#000" stroke-width="1.2"/>
<path d="M259.4 524.2L265.2 529.9L259.4 535.5L253.5 529.9Z" fill="#fff" stroke="#000" stroke-width="1.2"/>
<path d="M273.7 519.5L279.5 525.2L273.7 530.8L267.8 525.2Z" fill="#fff" stroke="#000" stroke-width="1.2"/>
<path d="M288 523.5L293.8 529.2L288 534.8L282.1 529.2Z" fill="#fff" stroke="#000" stroke-width="1.2"/>
<path d="M302.3 519.5L308.2 525.2L302.3 530.8L296.5 525.2Z" fill="#fff" stroke="#000" stroke-width="1.2"/>
<path d="M316.6 524.2L322.5 529.9L316.6 535.5L310.8 529.9Z" fill="#fff" stroke="#000" stroke-width="1.2"/>
<path d="M330.9 520.2L336.8 525.9L330.9 531.5L325.1 525.9Z" fill="#fff" stroke="#000" stroke-width="1.2"/>
<path d="M345.2 519.5L351.1 525.2L345.2 530.8L339.4 525.2Z" fill="#fff" stroke="#000" stroke-width="1.2"/>
<path d="M359.5 527.5L365.4 533.2L359.5 538.8L353.7 533.2Z" fill="#fff" stroke="#000" stroke-width="1.2"/>
<path d="M373.9 520.2L379.7 525.9L373.9 531.5L368 525.9Z" fill="#fff" stroke="#000" stroke-width="1.2"/>
<polyline points="459.7,528.7 474,528.7 488.3,527 502.6,528 517,526.4 531.3,527.6" fill="none" stroke="#000" stroke-width="2.0" stroke-linejoin="round"/>
<path d="M459.7 523L465.6 528.7L459.7 534.3L453.9 528.7Z" fill="#fff" stroke="#000" stroke-width="1.2"/>
<path d="M474 523L479.9 528.7L474 534.3L468.2 528.7Z" fill="#fff" stroke="#000" stroke-width="1.2"/>
<path d="M488.3 521.4L494.2 527L488.3 532.6L482.5 527Z" fill="#fff" stroke="#000" stroke-width="1.2"/>
<path d="M502.6 522.4L508.5 528L502.6 533.6L496.8 528Z" fill="#fff" stroke="#000" stroke-width="1.2"/>
<path d="M517 520.8L522.8 526.4L517 532L511.1 526.4Z" fill="#fff" stroke="#000" stroke-width="1.2"/>
<path d="M531.3 522L537.1 527.6L531.3 533.2L525.4 527.6Z" fill="#fff" stroke="#000" stroke-width="1.2"/>
</g>
<g>
<path d="M80.5 598.5V809.5H656.5" fill="none" stroke="#7e7e7e" stroke-width="1.25"/>
<path d="M74.5 809.5H80.5" stroke="#7e7e7e" stroke-width="1.25"/>
<text x="56.6" y="817.1" font-size="16.5" text-anchor="start" textLength="10" lengthAdjust="spacingAndGlyphs">0</text>
<path d="M74.5 767.3H80.5" stroke="#7e7e7e" stroke-width="1.25"/>
<text x="46.6" y="774.9" font-size="16.5" text-anchor="start" textLength="20" lengthAdjust="spacingAndGlyphs">50</text>
<path d="M74.5 725.1H80.5" stroke="#7e7e7e" stroke-width="1.25"/>
<text x="37.7" y="732.7" font-size="16.5" text-anchor="start" textLength="28.9" lengthAdjust="spacingAndGlyphs">100</text>
<path d="M74.5 682.9H80.5" stroke="#7e7e7e" stroke-width="1.25"/>
<text x="37.7" y="690.5" font-size="16.5" text-anchor="start" textLength="28.9" lengthAdjust="spacingAndGlyphs">150</text>
<path d="M74.5 640.7H80.5" stroke="#7e7e7e" stroke-width="1.25"/>
<text x="37.7" y="648.3" font-size="16.5" text-anchor="start" textLength="28.9" lengthAdjust="spacingAndGlyphs">200</text>
<path d="M74.5 598.5H80.5" stroke="#7e7e7e" stroke-width="1.25"/>
<text x="37.7" y="606.1" font-size="16.5" text-anchor="start" textLength="28.9" lengthAdjust="spacingAndGlyphs">250</text>
<text x="99.1" y="799.7" font-size="16.2" text-anchor="start" textLength="33.4" lengthAdjust="spacingAndGlyphs">RBG</text>
<polyline points="87.7,699.7 102.1,690.7 116.5,669.6 130.9,687.7 145.3,672 159.7,674.6" fill="none" stroke="#000" stroke-width="2.0" stroke-linejoin="round"/>
<rect x="82.3" y="694.4" width="10.9" height="10.7" fill="#000" stroke="#000" stroke-width="1"/>
<rect x="96.7" y="685.4" width="10.9" height="10.7" fill="#000" stroke="#000" stroke-width="1"/>
<rect x="111.1" y="664.2" width="10.9" height="10.7" fill="#000" stroke="#000" stroke-width="1"/>
<rect x="125.5" y="682.4" width="10.9" height="10.7" fill="#000" stroke="#000" stroke-width="1"/>
<rect x="139.9" y="666.6" width="10.9" height="10.7" fill="#000" stroke="#000" stroke-width="1"/>
<rect x="154.2" y="669.2" width="10.9" height="10.7" fill="#000" stroke="#000" stroke-width="1"/>
<polyline points="188.5,798.8 202.9,806.9 217.3,807 231.6,808 246,803.5 260.4,807.7 274.8,806.4 289.2,807.9 303.6,809.3 318,806.5 332.4,807 346.8,806.3" fill="none" stroke="#000" stroke-width="2.0" stroke-linejoin="round"/>
<rect x="183" y="793.4" width="10.9" height="10.7" fill="#000" stroke="#000" stroke-width="1"/>
<rect x="197.4" y="801.5" width="10.9" height="10.7" fill="#000" stroke="#000" stroke-width="1"/>
<rect x="211.8" y="801.6" width="10.9" height="10.7" fill="#000" stroke="#000" stroke-width="1"/>
<rect x="226.2" y="802.6" width="10.9" height="10.7" fill="#000" stroke="#000" stroke-width="1"/>
<rect x="240.6" y="798.1" width="10.9" height="10.7" fill="#000" stroke="#000" stroke-width="1"/>
<rect x="255" y="802.4" width="10.9" height="10.7" fill="#000" stroke="#000" stroke-width="1"/>
<rect x="269.4" y="801" width="10.9" height="10.7" fill="#000" stroke="#000" stroke-width="1"/>
<rect x="283.8" y="802.5" width="10.9" height="10.7" fill="#000" stroke="#000" stroke-width="1"/>
<rect x="298.1" y="803.9" width="10.9" height="10.7" fill="#000" stroke="#000" stroke-width="1"/>
<rect x="312.5" y="801.1" width="10.9" height="10.7" fill="#000" stroke="#000" stroke-width="1"/>
<rect x="326.9" y="801.6" width="10.9" height="10.7" fill="#000" stroke="#000" stroke-width="1"/>
<rect x="341.3" y="800.9" width="10.9" height="10.7" fill="#000" stroke="#000" stroke-width="1"/>
<polyline points="375.5,715.4 389.9,717.8 404.3,711.1 418.7,737.2" fill="none" stroke="#000" stroke-width="2.0" stroke-linejoin="round"/>
<rect x="370.1" y="710" width="10.9" height="10.7" fill="#000" stroke="#000" stroke-width="1"/>
<rect x="384.5" y="712.4" width="10.9" height="10.7" fill="#000" stroke="#000" stroke-width="1"/>
<rect x="398.9" y="705.8" width="10.9" height="10.7" fill="#000" stroke="#000" stroke-width="1"/>
<rect x="413.3" y="731.9" width="10.9" height="10.7" fill="#000" stroke="#000" stroke-width="1"/>
<polyline points="447.5,803.9 461.9,808.2 476.3,807.1 490.7,809.3 505.1,807.1 519.4,804.6 533.8,808.2 548.2,806.1 562.6,806.7" fill="none" stroke="#000" stroke-width="2.0" stroke-linejoin="round"/>
<rect x="442" y="798.5" width="10.9" height="10.7" fill="#000" stroke="#000" stroke-width="1"/>
<rect x="456.4" y="802.9" width="10.9" height="10.7" fill="#000" stroke="#000" stroke-width="1"/>
<rect x="470.8" y="801.8" width="10.9" height="10.7" fill="#000" stroke="#000" stroke-width="1"/>
<rect x="485.2" y="803.9" width="10.9" height="10.7" fill="#000" stroke="#000" stroke-width="1"/>
<rect x="499.6" y="801.8" width="10.9" height="10.7" fill="#000" stroke="#000" stroke-width="1"/>
<rect x="514" y="799.2" width="10.9" height="10.7" fill="#000" stroke="#000" stroke-width="1"/>
<rect x="528.4" y="802.9" width="10.9" height="10.7" fill="#000" stroke="#000" stroke-width="1"/>
<rect x="542.8" y="800.8" width="10.9" height="10.7" fill="#000" stroke="#000" stroke-width="1"/>
<rect x="557.2" y="801.4" width="10.9" height="10.7" fill="#000" stroke="#000" stroke-width="1"/>
<polyline points="591.4,776.6 605.8,787.3" fill="none" stroke="#000" stroke-width="2.0" stroke-linejoin="round"/>
<rect x="585.9" y="771.2" width="10.9" height="10.7" fill="#000" stroke="#000" stroke-width="1"/>
<rect x="600.3" y="781.9" width="10.9" height="10.7" fill="#000" stroke="#000" stroke-width="1"/>
<polyline points="634.6,676.3 649,689.7" fill="none" stroke="#000" stroke-width="2.0" stroke-linejoin="round"/>
<rect x="629.1" y="670.9" width="10.9" height="10.7" fill="#000" stroke="#000" stroke-width="1"/>
<rect x="643.5" y="684.4" width="10.9" height="10.7" fill="#000" stroke="#000" stroke-width="1"/>
<polyline points="87.7,649.2 102.1,648.2 116.5,659.3 130.9,654.3 145.3,650.9 159.7,635.5" fill="none" stroke="#000" stroke-width="2.0" stroke-linejoin="round"/>
<rect x="82.3" y="643.9" width="10.9" height="10.7" fill="#fff" stroke="#000" stroke-width="1.2"/>
<rect x="96.7" y="642.9" width="10.9" height="10.7" fill="#fff" stroke="#000" stroke-width="1.2"/>
<rect x="111.1" y="653.9" width="10.9" height="10.7" fill="#fff" stroke="#000" stroke-width="1.2"/>
<rect x="125.5" y="648.9" width="10.9" height="10.7" fill="#fff" stroke="#000" stroke-width="1.2"/>
<rect x="139.9" y="645.5" width="10.9" height="10.7" fill="#fff" stroke="#000" stroke-width="1.2"/>
<rect x="154.2" y="630.1" width="10.9" height="10.7" fill="#fff" stroke="#000" stroke-width="1.2"/>
<polyline points="188.5,756.5 202.9,789.7 217.3,784.8 231.6,794.3 246,794.4 260.4,792.8 274.8,807.2 289.2,808.1 303.6,805 318,799.1 332.4,807.8 346.8,802.8" fill="none" stroke="#000" stroke-width="2.0" stroke-linejoin="round"/>
<rect x="183" y="751.1" width="10.9" height="10.7" fill="#fff" stroke="#000" stroke-width="1.2"/>
<rect x="197.4" y="784.4" width="10.9" height="10.7" fill="#fff" stroke="#000" stroke-width="1.2"/>
<rect x="211.8" y="779.4" width="10.9" height="10.7" fill="#fff" stroke="#000" stroke-width="1.2"/>
<rect x="226.2" y="788.9" width="10.9" height="10.7" fill="#fff" stroke="#000" stroke-width="1.2"/>
<rect x="240.6" y="789" width="10.9" height="10.7" fill="#fff" stroke="#000" stroke-width="1.2"/>
<rect x="255" y="787.4" width="10.9" height="10.7" fill="#fff" stroke="#000" stroke-width="1.2"/>
<rect x="269.4" y="801.9" width="10.9" height="10.7" fill="#fff" stroke="#000" stroke-width="1.2"/>
<rect x="283.8" y="802.8" width="10.9" height="10.7" fill="#fff" stroke="#000" stroke-width="1.2"/>
<rect x="298.1" y="799.6" width="10.9" height="10.7" fill="#fff" stroke="#000" stroke-width="1.2"/>
<rect x="312.5" y="793.8" width="10.9" height="10.7" fill="#fff" stroke="#000" stroke-width="1.2"/>
<rect x="326.9" y="802.4" width="10.9" height="10.7" fill="#fff" stroke="#000" stroke-width="1.2"/>
<rect x="341.3" y="797.4" width="10.9" height="10.7" fill="#fff" stroke="#000" stroke-width="1.2"/>
<polyline points="375.5,715.4 389.9,680.3 404.3,701.1 418.7,669" fill="none" stroke="#000" stroke-width="2.0" stroke-linejoin="round"/>
<rect x="370.1" y="710" width="10.9" height="10.7" fill="#fff" stroke="#000" stroke-width="1.2"/>
<rect x="384.5" y="674.9" width="10.9" height="10.7" fill="#fff" stroke="#000" stroke-width="1.2"/>
<rect x="398.9" y="695.8" width="10.9" height="10.7" fill="#fff" stroke="#000" stroke-width="1.2"/>
<rect x="413.3" y="663.6" width="10.9" height="10.7" fill="#fff" stroke="#000" stroke-width="1.2"/>
<polyline points="447.5,795.7 461.9,804 476.3,771.6 490.7,780.6 505.1,798.4 519.4,795.7 533.8,795.7 548.2,800 562.6,801.4" fill="none" stroke="#000" stroke-width="2.0" stroke-linejoin="round"/>
<rect x="442" y="790.4" width="10.9" height="10.7" fill="#fff" stroke="#000" stroke-width="1.2"/>
<rect x="456.4" y="798.6" width="10.9" height="10.7" fill="#fff" stroke="#000" stroke-width="1.2"/>
<rect x="470.8" y="766.2" width="10.9" height="10.7" fill="#fff" stroke="#000" stroke-width="1.2"/>
<rect x="485.2" y="775.2" width="10.9" height="10.7" fill="#fff" stroke="#000" stroke-width="1.2"/>
<rect x="499.6" y="793" width="10.9" height="10.7" fill="#fff" stroke="#000" stroke-width="1.2"/>
<rect x="514" y="790.4" width="10.9" height="10.7" fill="#fff" stroke="#000" stroke-width="1.2"/>
<rect x="528.4" y="790.4" width="10.9" height="10.7" fill="#fff" stroke="#000" stroke-width="1.2"/>
<rect x="542.8" y="794.6" width="10.9" height="10.7" fill="#fff" stroke="#000" stroke-width="1.2"/>
<rect x="557.2" y="796" width="10.9" height="10.7" fill="#fff" stroke="#000" stroke-width="1.2"/>
<polyline points="591.4,766.3 605.8,731.5" fill="none" stroke="#000" stroke-width="2.0" stroke-linejoin="round"/>
<rect x="585.9" y="760.9" width="10.9" height="10.7" fill="#fff" stroke="#000" stroke-width="1.2"/>
<rect x="600.3" y="726.1" width="10.9" height="10.7" fill="#fff" stroke="#000" stroke-width="1.2"/>
<polyline points="634.6,692.1 649,672" fill="none" stroke="#000" stroke-width="2.0" stroke-linejoin="round"/>
<rect x="629.1" y="686.8" width="10.9" height="10.7" fill="#fff" stroke="#000" stroke-width="1.2"/>
<rect x="643.5" y="666.6" width="10.9" height="10.7" fill="#fff" stroke="#000" stroke-width="1.2"/>
<polyline points="188.5,791.4 202.9,793.4 217.3,793.4 231.6,794.9 246,792.8 260.4,794.9 274.8,795.4 289.2,794 303.6,795.4 318,800 332.4,795.7 346.8,795.7" fill="none" stroke="#000" stroke-width="2.0" stroke-linejoin="round"/>
<path d="M188.5 785.3L194.9 797.5L182.1 797.5Z" fill="#000"/>
<path d="M202.9 787.3L209.3 799.5L196.5 799.5Z" fill="#000"/>
<path d="M217.3 787.3L223.7 799.5L210.9 799.5Z" fill="#000"/>
<path d="M231.6 788.8L238 801L225.2 801Z" fill="#000"/>
<path d="M246 786.7L252.4 798.9L239.6 798.9Z" fill="#000"/>
<path d="M260.4 788.8L266.8 801L254 801Z" fill="#000"/>
<path d="M274.8 789.3L281.2 801.5L268.4 801.5Z" fill="#000"/>
<path d="M289.2 787.9L295.6 800.1L282.8 800.1Z" fill="#000"/>
<path d="M303.6 789.3L310 801.5L297.2 801.5Z" fill="#000"/>
<path d="M318 793.9L324.4 806.1L311.6 806.1Z" fill="#000"/>
<path d="M332.4 789.6L338.8 801.8L326 801.8Z" fill="#000"/>
<path d="M346.8 789.6L353.2 801.8L340.4 801.8Z" fill="#000"/>
<polyline points="447.5,797.6 461.9,792.3 476.3,793.8 490.7,797 505.1,795.5 519.4,795.5 533.8,795.5 548.2,798.7 562.6,798.7" fill="none" stroke="#000" stroke-width="2.0" stroke-linejoin="round"/>
<path d="M447.5 791.5L453.9 803.7L441.1 803.7Z" fill="#000"/>
<path d="M461.9 786.2L468.3 798.4L455.5 798.4Z" fill="#000"/>
<path d="M476.3 787.7L482.7 799.9L469.9 799.9Z" fill="#000"/>
<path d="M490.7 790.9L497.1 803.1L484.3 803.1Z" fill="#000"/>
<path d="M505.1 789.4L511.5 801.6L498.7 801.6Z" fill="#000"/>
<path d="M519.4 789.4L525.8 801.6L513 801.6Z" fill="#000"/>
<path d="M533.8 789.4L540.2 801.6L527.4 801.6Z" fill="#000"/>
<path d="M548.2 792.6L554.6 804.8L541.8 804.8Z" fill="#000"/>
<path d="M562.6 792.6L569 804.8L556.2 804.8Z" fill="#000"/>
<polyline points="188.5,737.2 202.9,726.5 217.3,738.8 231.6,727.8 246,722.1 260.4,714.4 274.8,691.4 289.2,678.7 303.6,710.4 318,713.1 332.4,746.2 346.8,712.1" fill="none" stroke="#000" stroke-width="2.0" stroke-linejoin="round"/>
<path d="M188.5 731.6L194.3 737.2L188.5 742.9L182.6 737.2Z" fill="#fff" stroke="#000" stroke-width="1.2"/>
<path d="M202.9 720.9L208.7 726.5L202.9 732.1L197 726.5Z" fill="#fff" stroke="#000" stroke-width="1.2"/>
<path d="M217.3 733.1L223.1 738.8L217.3 744.4L211.4 738.8Z" fill="#fff" stroke="#000" stroke-width="1.2"/>
<path d="M231.6 722.1L237.5 727.8L231.6 733.4L225.8 727.8Z" fill="#fff" stroke="#000" stroke-width="1.2"/>
<path d="M246 716.5L251.9 722.1L246 727.8L240.2 722.1Z" fill="#fff" stroke="#000" stroke-width="1.2"/>
<path d="M260.4 708.8L266.3 714.4L260.4 720L254.6 714.4Z" fill="#fff" stroke="#000" stroke-width="1.2"/>
<path d="M274.8 685.8L280.7 691.4L274.8 697L269 691.4Z" fill="#fff" stroke="#000" stroke-width="1.2"/>
<path d="M289.2 673.1L295.1 678.7L289.2 684.4L283.4 678.7Z" fill="#fff" stroke="#000" stroke-width="1.2"/>
<path d="M303.6 704.8L309.4 710.4L303.6 716L297.7 710.4Z" fill="#fff" stroke="#000" stroke-width="1.2"/>
<path d="M318 707.5L323.8 713.1L318 718.8L312.1 713.1Z" fill="#fff" stroke="#000" stroke-width="1.2"/>
<path d="M332.4 740.6L338.2 746.2L332.4 751.9L326.5 746.2Z" fill="#fff" stroke="#000" stroke-width="1.2"/>
<path d="M346.8 706.5L352.6 712.1L346.8 717.8L340.9 712.1Z" fill="#fff" stroke="#000" stroke-width="1.2"/>
<polyline points="447.5,714.4 461.9,716.1 476.3,723.8 490.7,721.5 505.1,707.1 519.4,719.4 533.8,707.4 548.2,725.1 562.6,700.4" fill="none" stroke="#000" stroke-width="2.0" stroke-linejoin="round"/>
<path d="M447.5 708.8L453.3 714.4L447.5 720L441.6 714.4Z" fill="#fff" stroke="#000" stroke-width="1.2"/>
<path d="M461.9 710.5L467.7 716.1L461.9 721.8L456 716.1Z" fill="#fff" stroke="#000" stroke-width="1.2"/>
<path d="M476.3 718.1L482.1 723.8L476.3 729.4L470.4 723.8Z" fill="#fff" stroke="#000" stroke-width="1.2"/>
<path d="M490.7 715.9L496.5 721.5L490.7 727.1L484.8 721.5Z" fill="#fff" stroke="#000" stroke-width="1.2"/>
<path d="M505.1 701.5L510.9 707.1L505.1 712.8L499.2 707.1Z" fill="#fff" stroke="#000" stroke-width="1.2"/>
<path d="M519.4 713.8L525.3 719.4L519.4 725L513.6 719.4Z" fill="#fff" stroke="#000" stroke-width="1.2"/>
<path d="M533.8 701.8L539.7 707.4L533.8 713L528 707.4Z" fill="#fff" stroke="#000" stroke-width="1.2"/>
<path d="M548.2 719.5L554.1 725.1L548.2 730.8L542.4 725.1Z" fill="#fff" stroke="#000" stroke-width="1.2"/>
<path d="M562.6 694.8L568.5 700.4L562.6 706L556.8 700.4Z" fill="#fff" stroke="#000" stroke-width="1.2"/>
</g>
<g>
<path d="M80.6 852V1013H658" fill="none" stroke="#7e7e7e" stroke-width="1.25"/>
<path d="M74.6 1013H80.6" stroke="#7e7e7e" stroke-width="1.25"/>
<text x="56.7" y="1019.7" font-size="16.5" text-anchor="start" textLength="10" lengthAdjust="spacingAndGlyphs">0</text>
<path d="M74.6 972.8H80.6" stroke="#7e7e7e" stroke-width="1.25"/>
<text x="46.7" y="979.5" font-size="16.5" text-anchor="start" textLength="20" lengthAdjust="spacingAndGlyphs">50</text>
<path d="M74.6 932.5H80.6" stroke="#7e7e7e" stroke-width="1.25"/>
<text x="37.8" y="939.2" font-size="16.5" text-anchor="start" textLength="28.9" lengthAdjust="spacingAndGlyphs">100</text>
<path d="M74.6 892.2H80.6" stroke="#7e7e7e" stroke-width="1.25"/>
<text x="37.8" y="899" font-size="16.5" text-anchor="start" textLength="28.9" lengthAdjust="spacingAndGlyphs">150</text>
<path d="M74.6 852H80.6" stroke="#7e7e7e" stroke-width="1.25"/>
<text x="37.8" y="858.7" font-size="16.5" text-anchor="start" textLength="28.9" lengthAdjust="spacingAndGlyphs">200</text>
<text x="95.2" y="1003.6" font-size="16.2" text-anchor="start" textLength="33.3" lengthAdjust="spacingAndGlyphs">HDS</text>
<polyline points="88.4,910.9 104,912.6 119.6,912.6 135.2,912.6 150.8,921.3 166.4,911.9" fill="none" stroke="#000" stroke-width="2.0" stroke-linejoin="round"/>
<rect x="82.9" y="905.5" width="10.9" height="10.7" fill="#000" stroke="#000" stroke-width="1"/>
<rect x="98.5" y="907.2" width="10.9" height="10.7" fill="#000" stroke="#000" stroke-width="1"/>
<rect x="114.1" y="907.2" width="10.9" height="10.7" fill="#000" stroke="#000" stroke-width="1"/>
<rect x="129.8" y="907.2" width="10.9" height="10.7" fill="#000" stroke="#000" stroke-width="1"/>
<rect x="145.4" y="915.9" width="10.9" height="10.7" fill="#000" stroke="#000" stroke-width="1"/>
<rect x="160.9" y="906.5" width="10.9" height="10.7" fill="#000" stroke="#000" stroke-width="1"/>
<polyline points="197.6,1007.7 213.2,1013 228.8,1013 244.4,1011.4 260,1013 275.6,1013 291.2,1013 306.8,1013 322.4,1011.6 338,1013 353.6,1013 369.2,1009.3" fill="none" stroke="#000" stroke-width="2.0" stroke-linejoin="round"/>
<rect x="192.2" y="1002.4" width="10.9" height="10.7" fill="#000" stroke="#000" stroke-width="1"/>
<rect x="207.8" y="1007.6" width="10.9" height="10.7" fill="#000" stroke="#000" stroke-width="1"/>
<rect x="223.3" y="1007.6" width="10.9" height="10.7" fill="#000" stroke="#000" stroke-width="1"/>
<rect x="238.9" y="1006" width="10.9" height="10.7" fill="#000" stroke="#000" stroke-width="1"/>
<rect x="254.6" y="1007.6" width="10.9" height="10.7" fill="#000" stroke="#000" stroke-width="1"/>
<rect x="270.2" y="1007.6" width="10.9" height="10.7" fill="#000" stroke="#000" stroke-width="1"/>
<rect x="285.8" y="1007.6" width="10.9" height="10.7" fill="#000" stroke="#000" stroke-width="1"/>
<rect x="301.3" y="1007.6" width="10.9" height="10.7" fill="#000" stroke="#000" stroke-width="1"/>
<rect x="316.9" y="1006.2" width="10.9" height="10.7" fill="#000" stroke="#000" stroke-width="1"/>
<rect x="332.6" y="1007.6" width="10.9" height="10.7" fill="#000" stroke="#000" stroke-width="1"/>
<rect x="348.2" y="1007.6" width="10.9" height="10.7" fill="#000" stroke="#000" stroke-width="1"/>
<rect x="363.7" y="1003.9" width="10.9" height="10.7" fill="#000" stroke="#000" stroke-width="1"/>
<polyline points="400.4,967.1 416,956.1 431.6,976.1 447.2,973.1" fill="none" stroke="#000" stroke-width="2.0" stroke-linejoin="round"/>
<rect x="394.9" y="961.8" width="10.9" height="10.7" fill="#000" stroke="#000" stroke-width="1"/>
<rect x="410.6" y="950.8" width="10.9" height="10.7" fill="#000" stroke="#000" stroke-width="1"/>
<rect x="426.2" y="970.8" width="10.9" height="10.7" fill="#000" stroke="#000" stroke-width="1"/>
<rect x="441.7" y="967.8" width="10.9" height="10.7" fill="#000" stroke="#000" stroke-width="1"/>
<polyline points="478.4,1013 494,1013 509.6,1013 525.2,1013 540.8,1013 556.4,1013" fill="none" stroke="#000" stroke-width="2.0" stroke-linejoin="round"/>
<rect x="472.9" y="1007.6" width="10.9" height="10.7" fill="#000" stroke="#000" stroke-width="1"/>
<rect x="488.6" y="1007.6" width="10.9" height="10.7" fill="#000" stroke="#000" stroke-width="1"/>
<rect x="504.2" y="1007.6" width="10.9" height="10.7" fill="#000" stroke="#000" stroke-width="1"/>
<rect x="519.7" y="1007.6" width="10.9" height="10.7" fill="#000" stroke="#000" stroke-width="1"/>
<rect x="535.3" y="1007.6" width="10.9" height="10.7" fill="#000" stroke="#000" stroke-width="1"/>
<rect x="550.9" y="1007.6" width="10.9" height="10.7" fill="#000" stroke="#000" stroke-width="1"/>
<polyline points="589.3,1010.6 605.3,1013" fill="none" stroke="#000" stroke-width="2.0" stroke-linejoin="round"/>
<rect x="583.9" y="1005.2" width="10.9" height="10.7" fill="#000" stroke="#000" stroke-width="1"/>
<rect x="599.9" y="1007.6" width="10.9" height="10.7" fill="#000" stroke="#000" stroke-width="1"/>
<polyline points="634.4,973.8 650,944.4" fill="none" stroke="#000" stroke-width="2.0" stroke-linejoin="round"/>
<rect x="628.9" y="968.4" width="10.9" height="10.7" fill="#000" stroke="#000" stroke-width="1"/>
<rect x="644.5" y="939" width="10.9" height="10.7" fill="#000" stroke="#000" stroke-width="1"/>
<polyline points="88.4,899.6 104,912.6 119.6,906.9 135.2,892.9 150.8,899.6 166.4,897.6" fill="none" stroke="#000" stroke-width="2.0" stroke-linejoin="round"/>
<rect x="82.9" y="894.2" width="10.9" height="10.7" fill="#fff" stroke="#000" stroke-width="1.2"/>
<rect x="98.5" y="907.2" width="10.9" height="10.7" fill="#fff" stroke="#000" stroke-width="1.2"/>
<rect x="114.1" y="901.5" width="10.9" height="10.7" fill="#fff" stroke="#000" stroke-width="1.2"/>
<rect x="129.8" y="887.5" width="10.9" height="10.7" fill="#fff" stroke="#000" stroke-width="1.2"/>
<rect x="145.4" y="894.2" width="10.9" height="10.7" fill="#fff" stroke="#000" stroke-width="1.2"/>
<rect x="160.9" y="892.2" width="10.9" height="10.7" fill="#fff" stroke="#000" stroke-width="1.2"/>
<polyline points="197.6,1011.6 213.2,1013 228.8,1013 244.4,1012.7 260,1013 275.6,1013 291.2,1013 306.8,1013 322.4,1011.6 338,1013 353.6,1013 369.2,1012.6" fill="none" stroke="#000" stroke-width="2.0" stroke-linejoin="round"/>
<rect x="192.2" y="1006.2" width="10.9" height="10.7" fill="#fff" stroke="#000" stroke-width="1.2"/>
<rect x="207.8" y="1007.6" width="10.9" height="10.7" fill="#fff" stroke="#000" stroke-width="1.2"/>
<rect x="223.3" y="1007.6" width="10.9" height="10.7" fill="#fff" stroke="#000" stroke-width="1.2"/>
<rect x="238.9" y="1007.4" width="10.9" height="10.7" fill="#fff" stroke="#000" stroke-width="1.2"/>
<rect x="254.6" y="1007.6" width="10.9" height="10.7" fill="#fff" stroke="#000" stroke-width="1.2"/>
<rect x="270.2" y="1007.6" width="10.9" height="10.7" fill="#fff" stroke="#000" stroke-width="1.2"/>
<rect x="285.8" y="1007.6" width="10.9" height="10.7" fill="#fff" stroke="#000" stroke-width="1.2"/>
<rect x="301.3" y="1007.6" width="10.9" height="10.7" fill="#fff" stroke="#000" stroke-width="1.2"/>
<rect x="316.9" y="1006.2" width="10.9" height="10.7" fill="#fff" stroke="#000" stroke-width="1.2"/>
<rect x="332.6" y="1007.6" width="10.9" height="10.7" fill="#fff" stroke="#000" stroke-width="1.2"/>
<rect x="348.2" y="1007.6" width="10.9" height="10.7" fill="#fff" stroke="#000" stroke-width="1.2"/>
<rect x="363.7" y="1007.2" width="10.9" height="10.7" fill="#fff" stroke="#000" stroke-width="1.2"/>
<polyline points="400.4,895.9 416,935.3 431.6,956.1 447.2,946" fill="none" stroke="#000" stroke-width="2.0" stroke-linejoin="round"/>
<rect x="394.9" y="890.5" width="10.9" height="10.7" fill="#fff" stroke="#000" stroke-width="1.2"/>
<rect x="410.6" y="929.9" width="10.9" height="10.7" fill="#fff" stroke="#000" stroke-width="1.2"/>
<rect x="426.2" y="950.8" width="10.9" height="10.7" fill="#fff" stroke="#000" stroke-width="1.2"/>
<rect x="441.7" y="940.6" width="10.9" height="10.7" fill="#fff" stroke="#000" stroke-width="1.2"/>
<polyline points="478.4,1013 494,1013 509.6,1013 525.2,1013 540.8,1011.9 556.4,1013" fill="none" stroke="#000" stroke-width="2.0" stroke-linejoin="round"/>
<rect x="472.9" y="1007.6" width="10.9" height="10.7" fill="#fff" stroke="#000" stroke-width="1.2"/>
<rect x="488.6" y="1007.6" width="10.9" height="10.7" fill="#fff" stroke="#000" stroke-width="1.2"/>
<rect x="504.2" y="1007.6" width="10.9" height="10.7" fill="#fff" stroke="#000" stroke-width="1.2"/>
<rect x="519.7" y="1007.6" width="10.9" height="10.7" fill="#fff" stroke="#000" stroke-width="1.2"/>
<rect x="535.3" y="1006.5" width="10.9" height="10.7" fill="#fff" stroke="#000" stroke-width="1.2"/>
<rect x="550.9" y="1007.6" width="10.9" height="10.7" fill="#fff" stroke="#000" stroke-width="1.2"/>
<polyline points="589.3,1012.8 605.3,1013" fill="none" stroke="#000" stroke-width="2.0" stroke-linejoin="round"/>
<rect x="583.9" y="1007.4" width="10.9" height="10.7" fill="#fff" stroke="#000" stroke-width="1.2"/>
<rect x="599.9" y="1007.6" width="10.9" height="10.7" fill="#fff" stroke="#000" stroke-width="1.2"/>
<polyline points="634.4,933.7 650,906.9" fill="none" stroke="#000" stroke-width="2.0" stroke-linejoin="round"/>
<rect x="628.9" y="928.4" width="10.9" height="10.7" fill="#fff" stroke="#000" stroke-width="1.2"/>
<rect x="644.5" y="901.5" width="10.9" height="10.7" fill="#fff" stroke="#000" stroke-width="1.2"/>
<polyline points="197.6,971.1 213.2,985.5 228.8,989.8 244.4,986.5 260,992.2 275.6,990.5 291.2,992.2 306.8,988.2 322.4,991.2 338,992.2 353.6,991.2 369.2,994.2" fill="none" stroke="#000" stroke-width="2.0" stroke-linejoin="round"/>
<path d="M197.6 965L204 977.2L191.2 977.2Z" fill="#000"/>
<path d="M213.2 979.4L219.6 991.6L206.8 991.6Z" fill="#000"/>
<path d="M228.8 983.7L235.2 995.9L222.4 995.9Z" fill="#000"/>
<path d="M244.4 980.4L250.8 992.6L238 992.6Z" fill="#000"/>
<path d="M260 986.1L266.4 998.3L253.6 998.3Z" fill="#000"/>
<path d="M275.6 984.4L282 996.6L269.2 996.6Z" fill="#000"/>
<path d="M291.2 986.1L297.6 998.3L284.8 998.3Z" fill="#000"/>
<path d="M306.8 982.1L313.2 994.3L300.4 994.3Z" fill="#000"/>
<path d="M322.4 985.1L328.8 997.3L316 997.3Z" fill="#000"/>
<path d="M338 986.1L344.4 998.3L331.6 998.3Z" fill="#000"/>
<path d="M353.6 985.1L360 997.3L347.2 997.3Z" fill="#000"/>
<path d="M369.2 988.1L375.6 1000.3L362.8 1000.3Z" fill="#000"/>
<polyline points="478.4,991.5 494,989.8 509.6,993.9 525.2,992.5 540.8,994.5 556.4,991.5" fill="none" stroke="#000" stroke-width="2.0" stroke-linejoin="round"/>
<path d="M478.4 985.4L484.8 997.6L472 997.6Z" fill="#000"/>
<path d="M494 983.7L500.4 995.9L487.6 995.9Z" fill="#000"/>
<path d="M509.6 987.8L516 1000L503.2 1000Z" fill="#000"/>
<path d="M525.2 986.4L531.6 998.6L518.8 998.6Z" fill="#000"/>
<path d="M540.8 988.4L547.2 1000.6L534.4 1000.6Z" fill="#000"/>
<path d="M556.4 985.4L562.8 997.6L550 997.6Z" fill="#000"/>
<polyline points="197.6,897.6 213.2,883.5 228.8,875.8 244.4,869.1 260,861.8 275.6,891.9 291.2,871.8 306.8,865.1 322.4,946 338,942 353.6,867.8 369.2,887.5" fill="none" stroke="#000" stroke-width="2.0" stroke-linejoin="round"/>
<path d="M197.6 892L203.4 897.6L197.6 903.2L191.8 897.6Z" fill="#fff" stroke="#000" stroke-width="1.2"/>
<path d="M213.2 877.9L219 883.5L213.2 889.1L207.3 883.5Z" fill="#fff" stroke="#000" stroke-width="1.2"/>
<path d="M228.8 870.1L234.6 875.8L228.8 881.4L222.9 875.8Z" fill="#fff" stroke="#000" stroke-width="1.2"/>
<path d="M244.4 863.5L250.2 869.1L244.4 874.8L238.5 869.1Z" fill="#fff" stroke="#000" stroke-width="1.2"/>
<path d="M260 856.1L265.9 861.8L260 867.4L254.2 861.8Z" fill="#fff" stroke="#000" stroke-width="1.2"/>
<path d="M275.6 886.2L281.5 891.9L275.6 897.5L269.8 891.9Z" fill="#fff" stroke="#000" stroke-width="1.2"/>
<path d="M291.2 866.1L297.1 871.8L291.2 877.4L285.3 871.8Z" fill="#fff" stroke="#000" stroke-width="1.2"/>
<path d="M306.8 859.5L312.6 865.1L306.8 870.8L300.9 865.1Z" fill="#fff" stroke="#000" stroke-width="1.2"/>
<path d="M322.4 940.4L328.2 946L322.4 951.6L316.5 946Z" fill="#fff" stroke="#000" stroke-width="1.2"/>
<path d="M338 936.4L343.9 942L338 947.6L332.1 942Z" fill="#fff" stroke="#000" stroke-width="1.2"/>
<path d="M353.6 862.1L359.5 867.8L353.6 873.4L347.8 867.8Z" fill="#fff" stroke="#000" stroke-width="1.2"/>
<path d="M369.2 881.9L375 887.5L369.2 893.1L363.3 887.5Z" fill="#fff" stroke="#000" stroke-width="1.2"/>
<polyline points="478.4,867.8 494,900.6 509.6,868.5 525.2,880.8 540.8,867.8 556.4,892.5" fill="none" stroke="#000" stroke-width="2.0" stroke-linejoin="round"/>
<path d="M478.4 862.1L484.2 867.8L478.4 873.4L472.5 867.8Z" fill="#fff" stroke="#000" stroke-width="1.2"/>
<path d="M494 895L499.9 900.6L494 906.2L488.1 900.6Z" fill="#fff" stroke="#000" stroke-width="1.2"/>
<path d="M509.6 862.9L515.5 868.5L509.6 874.1L503.8 868.5Z" fill="#fff" stroke="#000" stroke-width="1.2"/>
<path d="M525.2 875.1L531 880.8L525.2 886.4L519.3 880.8Z" fill="#fff" stroke="#000" stroke-width="1.2"/>
<path d="M540.8 862.1L546.6 867.8L540.8 873.4L534.9 867.8Z" fill="#fff" stroke="#000" stroke-width="1.2"/>
<path d="M556.4 886.9L562.2 892.5L556.4 898.1L550.5 892.5Z" fill="#fff" stroke="#000" stroke-width="1.2"/>
</g>
<g fill="none" stroke="#000" stroke-width="2.2" stroke-linejoin="miter">
<path d="M177.3 1L177.3 1013.5"/>
<path d="M371.3 1L371.3 387.3L390.1 387.3L390.1 584.1L360.4 584.1L360.4 836.4L386.1 836.4L386.1 1013.5"/>
<path d="M415.8 1L415.8 198.3L434.5 198.3L434.5 387.3L445.8 387.3L445.8 584.1L433.3 584.1L433.3 836.4L464 836.4L464 1013.5"/>
<path d="M445.3 1L445.3 161.8"/>
<path d="M489.8 1L489.8 161.8"/>
<path d="M538.3 197L538.3 387.5L545.5 387.5L545.5 584.1L577.2 584.1L577.2 1013.5"/>
<path d="M612.9 197L612.9 387.5L617.7 387.5L617.7 1013.5"/>
</g>
<text x="91" y="14" font-size="17.6" text-anchor="start" textLength="46" lengthAdjust="spacingAndGlyphs">BSLN</text>
<text x="193" y="13.5" font-size="17.6" text-anchor="start" textLength="22.8" lengthAdjust="spacingAndGlyphs">TX</text>
<text x="375.9" y="13.9" font-size="17.6" text-anchor="start" textLength="32.6" lengthAdjust="spacingAndGlyphs">EXT</text>
<text x="422.4" y="13.9" font-size="17.6" text-anchor="start" textLength="16.4" lengthAdjust="spacingAndGlyphs">RI</text>
<text x="453" y="13.9" font-size="17.6" text-anchor="start" textLength="32.6" lengthAdjust="spacingAndGlyphs">EXT</text>
<text x="498.1" y="13.9" font-size="18.4" text-anchor="start" textLength="23" lengthAdjust="spacingAndGlyphs">RC</text>
<text x="441.7" y="215.3" font-size="20" text-anchor="start" textLength="23" lengthAdjust="spacingAndGlyphs">TX</text>
<text x="544.2" y="214.2" font-size="18" text-anchor="start" textLength="59" lengthAdjust="spacingAndGlyphs">EXT+D</text>
<text x="626.6" y="213.4" font-size="19.4" text-anchor="start" textLength="24.4" lengthAdjust="spacingAndGlyphs">RC</text>
<rect x="560.3" y="16.2" width="74.4" height="115.9" fill="#fff" stroke="#8a8a8a" stroke-width="0.9"/>
<path d="M568.7 33.5H601.9" stroke="#000" stroke-width="1.6"/>
<rect x="580.4" y="28.8" width="10" height="9.5" fill="#000" stroke="#000" stroke-width="1"/>
<text x="615" y="38.6" font-size="13.6" text-anchor="start">A</text>
<path d="M568.7 61.6H601.9" stroke="#000" stroke-width="1.6"/>
<rect x="580.4" y="56.9" width="10" height="9.5" fill="#fff" stroke="#000" stroke-width="1.2"/>
<text x="615" y="66.7" font-size="13.6" text-anchor="start">B</text>
<path d="M568.7 89.5H601.9" stroke="#000" stroke-width="1.6"/>
<path d="M585.4 84.6L591.1 95L579.7 95Z" fill="#000"/>
<text x="615" y="94.6" font-size="13.6" text-anchor="start">C</text>
<path d="M568.7 117.7H601.9" stroke="#000" stroke-width="1.6"/>
<path d="M585.4 112.8L590.2 117.7L585.4 122.6L580.6 117.7Z" fill="#fff" stroke="#000" stroke-width="1.2"/>
<text x="615" y="122.8" font-size="13.6" text-anchor="start">D</text>
<text x="386.2" y="1049.2" font-size="19.6" text-anchor="middle" textLength="182.4" lengthAdjust="spacingAndGlyphs">Successive Sessions</text>
<text transform="translate(15.0 478.8) rotate(-90)" font-size="19.8" text-anchor="middle" textLength="197.6" lengthAdjust="spacingAndGlyphs">Responses per Minute</text>
</svg>
</body>
</html>
